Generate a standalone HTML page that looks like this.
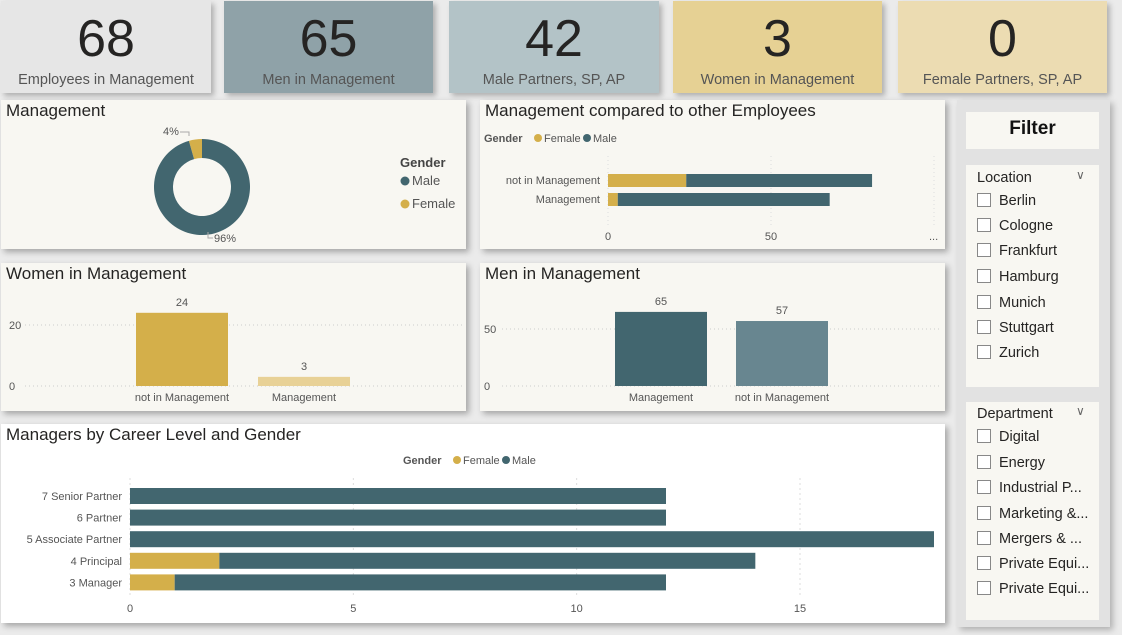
<!DOCTYPE html>
<html><head><meta charset="utf-8">
<style>
body{margin:0;width:1122px;height:635px;background:#ebebeb;font-family:"Liberation Sans","DejaVu Sans",sans-serif;position:relative;overflow:hidden}
.a{position:absolute}
.kpi{position:absolute;top:1px;height:92px;box-shadow:3px 3px 5px rgba(0,0,0,.25);text-align:center}
.kpi .n{position:absolute;left:0;right:0;top:8px;font-size:52px;color:#252423;line-height:60px}
.kpi .l{position:absolute;left:0;right:0;top:71px;font-size:14.5px;color:#555}
.p{position:absolute;background:#f8f7f2;box-shadow:3px 3px 6px rgba(0,0,0,.3)}
.t{position:absolute;left:5px;top:1px;font-size:17px;color:#252423}
.card{position:absolute;left:966px;width:133px;background:#f8f7f2}
.it{position:absolute;left:11px;font-size:14.5px;color:#252423}
.it span{display:inline-block;width:12px;height:12px;border:1px solid #888;vertical-align:-2px;margin-right:8px;background:#fff}
svg text{font-family:"Liberation Sans","DejaVu Sans",sans-serif}
</style></head><body>
<div class="kpi" style="left:1px;width:210px;background:#e6e6e6"><div class="n">68</div><div class="l">Employees in Management</div></div>
<div class="kpi" style="left:224px;width:209px;background:#8fa2a8"><div class="n">65</div><div class="l">Men in Management</div></div>
<div class="kpi" style="left:449px;width:210px;background:#b3c3c7"><div class="n">42</div><div class="l">Male Partners, SP, AP</div></div>
<div class="kpi" style="left:673px;width:209px;background:#e6d194"><div class="n">3</div><div class="l">Women in Management</div></div>
<div class="kpi" style="left:898px;width:209px;background:#ecdcb2"><div class="n">0</div><div class="l">Female Partners, SP, AP</div></div>

<div class="p" style="left:1px;top:100px;width:465px;height:149px"><div class="t">Management</div></div>
<div class="p" style="left:480px;top:100px;width:465px;height:149px"><div class="t">Management compared to other Employees</div></div>
<div class="p" style="left:1px;top:263px;width:465px;height:148px"><div class="t">Women in Management</div></div>
<div class="p" style="left:480px;top:263px;width:465px;height:148px"><div class="t">Men in Management</div></div>
<div class="p" style="left:1px;top:424px;width:944px;height:199px;background:#fff"><div class="t">Managers by Career Level and Gender</div></div>

<div class="a" style="left:957px;top:100px;width:153px;height:527px;background:#e2e2e2;box-shadow:3px 3px 6px rgba(0,0,0,.25)"></div>
<div class="card" style="top:112px;height:37px;text-align:center;font-weight:bold;font-size:19px;line-height:33px;color:#111">Filter</div>
<div class="card" style="top:165px;height:222px">
<div class="it" style="top:5px">Location</div><div class="a" style="left:110px;top:3px;color:#666;font-size:12px">&#x2228;</div>
<div class="it" style="top:28px"><span></span>Berlin</div>
<div class="it" style="top:53px"><span></span>Cologne</div>
<div class="it" style="top:78px"><span></span>Frankfurt</div>
<div class="it" style="top:104px"><span></span>Hamburg</div>
<div class="it" style="top:130px"><span></span>Munich</div>
<div class="it" style="top:155px"><span></span>Stuttgart</div>
<div class="it" style="top:180px"><span></span>Zurich</div>
</div>
<div class="card" style="top:402px;height:218px">
<div class="it" style="top:4px">Department</div><div class="a" style="left:110px;top:2px;color:#666;font-size:12px">&#x2228;</div>
<div class="it" style="top:27px"><span></span>Digital</div>
<div class="it" style="top:53px"><span></span>Energy</div>
<div class="it" style="top:78px"><span></span>Industrial P...</div>
<div class="it" style="top:104px"><span></span>Marketing &amp;...</div>
<div class="it" style="top:129px"><span></span>Mergers &amp; ...</div>
<div class="it" style="top:154px"><span></span>Private Equi...</div>
<div class="it" style="top:179px"><span></span>Private Equi...</div>
</div>

<svg id="s" class="a" style="left:0;top:0" width="1122" height="635"></svg>
<script>
const donutLabels=["Female","Male"];
const donutValues=[3,65];
const cmpCats=["not in Management","Management"];
const cmpFemale=[24,3];
const cmpMale=[57,65];
const cmpTicks=[0,50];
const womenCats=["not in Management","Management"];
const womenValues=[24,3];
const womenTicks=[0,20];
const menCats=["Management","not in Management"];
const menValues=[65,57];
const menTicks=[0,50];
const careerCats=["7 Senior Partner","6 Partner","5 Associate Partner","4 Principal","3 Manager"];
const careerFemale=[0,0,0,2,1];
const careerMale=[12,12,18,12,11];
const careerTicks=[0,5,10,15];

const F="#d4af4a",M="#42666f",NS="http://www.w3.org/2000/svg";
const s=document.getElementById('s');
function el(t,a,txt){const e=document.createElementNS(NS,t);for(const k in a)e.setAttribute(k,a[k]);if(txt!=null)e.textContent=txt;s.appendChild(e);return e;}
function txt(x,y,t,o){return el('text',Object.assign({x:x,y:y,'font-size':11,fill:'#555'},o||{}),t);}

// donut
const cx=202,cy=187,R=48,r=29,tot=donutValues.reduce((a,b)=>a+b,0);
let ang=0;
for(let i=0;i<donutValues.length;i++){
  const a0=ang,a1=ang-donutValues[i]/tot*2*Math.PI;ang=a1;
  const p=(a,rr)=>[cx+rr*Math.sin(a),cy-rr*Math.cos(a)];
  const big=Math.abs(a1-a0)>Math.PI?1:0;
  const [x0,y0]=p(a0,R),[x1,y1]=p(a1,R),[x2,y2]=p(a1,r),[x3,y3]=p(a0,r);
  const e=el('path',{d:`M${x0},${y0}A${R},${R} 0 ${big} 0 ${x1},${y1}L${x2},${y2}A${r},${r} 0 ${big} 1 ${x3},${y3}Z`,fill:i==0?F:M});
  
  
}
el('path',{d:'M180,132H189V136',stroke:'#aaa',fill:'none'});
txt(163,135,Math.round(donutValues[0]/tot*100)+'%');
el('path',{d:'M208,232V238H213',stroke:'#aaa',fill:'none'});
txt(214,242,Math.round(donutValues[1]/tot*100)+'%');
txt(400,167,'Gender',{'font-weight':'bold','font-size':13,fill:'#444'});
el('circle',{cx:405,cy:181,r:4.5,fill:M});txt(412,185,'Male',{'font-size':13});
el('circle',{cx:405,cy:204,r:4.5,fill:F});txt(412,208,'Female',{'font-size':13});

// legend helper
function legend(x,y){txt(x,y,'Gender',{'font-weight':'bold'});el('circle',{cx:x+54,cy:y-4,r:4,fill:F});txt(x+60,y,'Female');el('circle',{cx:x+103,cy:y-4,r:4,fill:M});txt(x+109,y,'Male');}

// comparison
legend(484,142);
const cx0=608,cxs=(771-608)/50;
cmpTicks.forEach(t=>{const x=cx0+t*cxs;el('line',{x1:x,x2:x,y1:156,y2:226,stroke:'#ddd','stroke-dasharray':'1,3'});txt(x,240,t,{'text-anchor':'middle'});});
el('line',{x1:934,x2:934,y1:156,y2:226,stroke:'#ddd','stroke-dasharray':'1,3'});txt(929,240,'...');
cmpCats.forEach((c,i)=>{const y=174+i*19,h=13;
  txt(600,y+10,c,{'text-anchor':'end'});
  const b1=el('rect',{x:cx0,y:y,width:cmpFemale[i]*cxs,height:h,fill:F});
  
  const b2=el('rect',{x:cx0+cmpFemale[i]*cxs,y:y,width:cmpMale[i]*cxs,height:h,fill:M});
  
});

// column chart helper
function columns(cats,vals,ticks,y0,scale,xs,w,cols,gx1,gx2,ax,nm){
  ticks.forEach(t=>{const y=y0-t*scale;el('line',{x1:gx1,x2:gx2,y1:y,y2:y,stroke:'#ccc','stroke-dasharray':'1,3'});txt(ax,y+4,t);});
  cats.forEach((c,i)=>{const h=vals[i]*scale;
    const b=el('rect',{x:xs[i],y:y0-h,width:w,height:h,fill:cols[i]});
    
    txt(xs[i]+w/2,y0-h-7,vals[i],{'text-anchor':'middle'});
    txt(xs[i]+w/2,401,c,{'text-anchor':'middle'});
  });
}
columns(womenCats,womenValues,womenTicks,386,(386-325)/20,[136,258],92,[F,"#e8d196"],25,462,9,'women');
columns(menCats,menValues,menTicks,386,(386-329)/50,[615,736],92,[M,"#688690"],502,942,484,'men');

// career
legend(403,464);
const kx0=130,kxs=(800-130)/15;
careerTicks.forEach(t=>{const x=kx0+t*kxs;el('line',{x1:x,x2:x,y1:478,y2:596,stroke:'#ddd','stroke-dasharray':'2,3'});txt(x,612,t,{'text-anchor':'middle'});});
careerCats.forEach((c,i)=>{const y=488+i*21.6,h=16;
  txt(122,y+12,c,{'text-anchor':'end'});
  if(careerFemale[i]>0){const b=el('rect',{x:kx0,y:y,width:careerFemale[i]*kxs,height:h,fill:F});
    }
  const b=el('rect',{x:kx0+careerFemale[i]*kxs,y:y,width:careerMale[i]*kxs,height:h,fill:M});
  
});
</script>
</body></html>
